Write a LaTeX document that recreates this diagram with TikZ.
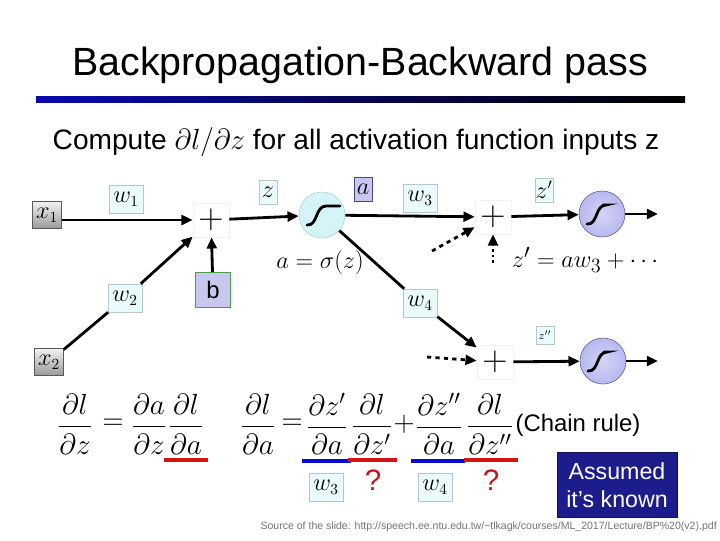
\documentclass[tikz,border=0pt]{standalone}
\usepackage{amsmath}
\usepackage{fontspec}
\setmainfont{Liberation Sans}
\usetikzlibrary{arrows.meta}

\definecolor{barblue}{RGB}{10,10,170}
\definecolor{lblfill}{RGB}{234,251,251}
\definecolor{lblline}{RGB}{180,200,200}
\definecolor{lavfill}{RGB}{200,200,238}
\definecolor{lavline}{RGB}{70,70,130}
\definecolor{sigcyan}{RGB}{214,244,248}
\definecolor{sigcyanline}{RGB}{160,214,222}
\definecolor{sigblue}{RGB}{184,184,240}
\definecolor{sigblueline}{RGB}{90,90,150}
\definecolor{knownblue}{RGB}{28,28,140}
\definecolor{qred}{RGB}{200,20,20}
\definecolor{ulred}{RGB}{210,20,20}
\definecolor{ulblue}{RGB}{10,10,210}

\tikzset{
  arr/.style={line width=2pt, -{Triangle[length=8pt,width=7pt]}},
  wire/.style={line width=2pt},
  xbox/.style={draw=black!65, top color=black!5, bottom color=black!40,
    minimum width=0.72cm, minimum height=0.68cm, inner sep=0pt,
    font=\fontsize{16}{18}\selectfont},
  lbl/.style={draw=lblline, fill=lblfill, minimum width=0.86cm,
    minimum height=0.7cm, inner sep=0pt, font=\fontsize{16}{18}\selectfont},
  slbl/.style={draw=lblline, fill=lblfill, minimum width=0.45cm,
    minimum height=0.6cm, inner sep=0pt, font=\fontsize{16}{18}\selectfont},
  plus/.style={draw=black!5, fill=white, minimum width=0.9cm,
    minimum height=0.85cm, inner sep=0pt},
  sigone/.style={circle, draw=sigcyanline, fill=sigcyan, minimum size=1.15cm},
  sigtwo/.style={circle, draw=sigblueline, inner color=sigblue!60, outer color=sigblue,
    minimum size=1.15cm},
  frc/.style={inner sep=0pt, font=\fontsize{20}{24}\selectfont},
  redline/.style={draw=ulred, line width=3pt},
  blueline/.style={draw=ulblue, line width=3pt},
  qmark/.style={text=qred, font=\fontsize{21}{24}\selectfont},
  sigcurve/.pic={
    \draw[line width=2pt, line cap=round] (-15,10) .. controls (-4,11) and (-7,-9) .. (4,-9) -- (#1,-9);
  },
  sigcurve/.default=12
}

\begin{document}
\begin{tikzpicture}[x=0.025cm,y=-0.025cm]
\useasboundingbox (0,0) rectangle (720,540);

% title and task
\node[font=\fontsize{28}{32}\selectfont] (title) at (360,65) {Backpropagation-Backward pass};
\shade[left color=barblue, right color=black] (36,96) rectangle (685,102);
\node[font=\fontsize{20}{24}\selectfont] (task) at (356,142)
  {Compute $\partial l/\partial z$ for all activation function inputs z};

% first neuron
\node[xbox] (x1) at (47,215) {$x_1$};
\node[xbox] (x2) at (49,362) {$x_2$};
\node[lbl] (w1) at (126,199) {$w_1$};
\node[lbl] (w2) at (125,298) {$w_2$};
\node[plus] (p1) at (211,220) {\fontsize{30}{30}\selectfont$+$};
\node[draw=green!45!black!70, fill=lavfill, minimum width=0.88cm, minimum height=0.88cm,
  font=\fontsize{17}{20}\selectfont] (b) at (213,290) {b};
\node[slbl] (z) at (268,192) {$z$};
\node[sigone] (s1) at (322,215) {};
\pic at (s1) {sigcurve=18};
\node[slbl, draw=lavline, fill=lavfill] (a) at (363,189) {$a$};
\node[font=\fontsize{19}{22}\selectfont] (aeq) at (320,262) {$a=\sigma(z)$};

\draw[arr] (x1.east |- p1.west) -- (p1.west);
\draw[wire] (x2) -- (w2);
\draw[arr] (w2) -- (p1);
\draw[arr] (b) -- (p1);
\draw[arr] (p1) -- (s1);

% second layer
\node[lbl] (w3) at (420,198) {$w_3$};
\node[lbl] (w4) at (420,303) {$w_4$};
\node[plus] (p2) at (493,217) {\fontsize{30}{30}\selectfont$+$};
\node[plus] (p3) at (495,362) {\fontsize{30}{30}\selectfont$+$};
\node[slbl] (zp) at (544,190) {$z'$};
\node[slbl, minimum height=0.45cm, font=\fontsize{8}{9}\selectfont] (zpp) at (545,335) {$z''$};
\node[sigtwo] (s2) at (602,214) {};
\pic at (s2) {sigcurve};
\node[sigtwo] (s3) at (603,361) {};
\pic at (s3) {sigcurve};
\node[font=\fontsize{19}{22}\selectfont] (zpeq) at (587,260) {$z'=aw_3+\cdots$};

\coordinate (d1) at (432,251);
\coordinate (d2) at (493,263);
\coordinate (d3) at (427,357);
\coordinate (o2) at (658,214);
\coordinate (o3) at (658,361);

\draw[arr] (s1) -- (p2);
\draw[wire] (s1) -- (w4);
\draw[arr] (w4) -- (p3);
\draw[arr, dashed] (d1) -- (p2);
\draw[arr, dotted] (d2) -- (p2);
\draw[arr, dashed] (d3) -- (p3);
\draw[arr] (p2) -- (s2);
\draw[arr] (p3) -- (s3);
\draw[arr] (s2) -- (o2);
\draw[arr] (s3) -- (o3);

% chain rule
\node[frc] (dldz) at (75,424) {$\dfrac{\partial l}{\partial z}$};
\node[frc] (eqa) at (113,424) {$=$};
\node[frc] (dadz) at (149,424) {$\dfrac{\partial a}{\partial z}$};
\node[frc] (dlda) at (186,424) {$\dfrac{\partial l}{\partial a}$};
\draw[redline] ([xshift=-3pt,yshift=-4pt]dlda.south west) -- ([xshift=3pt,yshift=-4pt]dlda.south east);

\node[frc] (dldb) at (258,424) {$\dfrac{\partial l}{\partial a}$};
\node[frc] (eqb) at (292,424) {$=$};
\node[frc] (dzpda) at (327,424) {$\dfrac{\partial z'}{\partial a}$};
\node[frc] (dldzp) at (372,424) {$\dfrac{\partial l}{\partial z'}$};
\node[frc] (plusb) at (404,424) {$+$};
\node[frc] (dzppda) at (439,424) {$\dfrac{\partial z''}{\partial a}$};
\node[frc] (dldzpp) at (490,424) {$\dfrac{\partial l}{\partial z''}$};
\node[font=\fontsize{17}{20}\selectfont] (chain) at (578,425) {(Chain rule)};

\draw[blueline] ([xshift=-3pt,yshift=-4pt]dzpda.south west) -- ([xshift=2pt,yshift=-4pt]dzpda.south east);
\draw[redline] ([xshift=-2pt,yshift=-4pt]dldzp.south west) -- ([xshift=3pt,yshift=-4pt]dldzp.south east);
\draw[blueline] ([xshift=-3pt,yshift=-4pt]dzppda.south west) -- ([xshift=2pt,yshift=-4pt]dzppda.south east);
\draw[redline] ([xshift=-2pt,yshift=-4pt]dldzpp.south west) -- ([xshift=3pt,yshift=-4pt]dldzpp.south east);

\node[qmark] (q1) at (373,480) {?};
\node[qmark] (q2) at (491,480) {?};
\node[lbl] (w3b) at (326,487) {$w_3$};
\node[lbl] (w4b) at (435,487) {$w_4$};
\node[fill=knownblue, draw=knownblue!60!black, text=white, align=center,
  minimum width=3cm, minimum height=1.63cm, inner sep=1pt,
  font=\fontsize{16.5}{19.5}\selectfont] (known) at (617,485) {Assumed\\it’s known};

\node[anchor=east, inner sep=0pt, text=black!55, font=\fontsize{7.5}{9}\selectfont] (src) at (717,527)
  {Source of the slide: http://speech.ee.ntu.edu.tw/\textasciitilde tlkagk/courses/ML\_2017/Lecture/BP\%20(v2).pdf};
\end{tikzpicture}
\end{document}
